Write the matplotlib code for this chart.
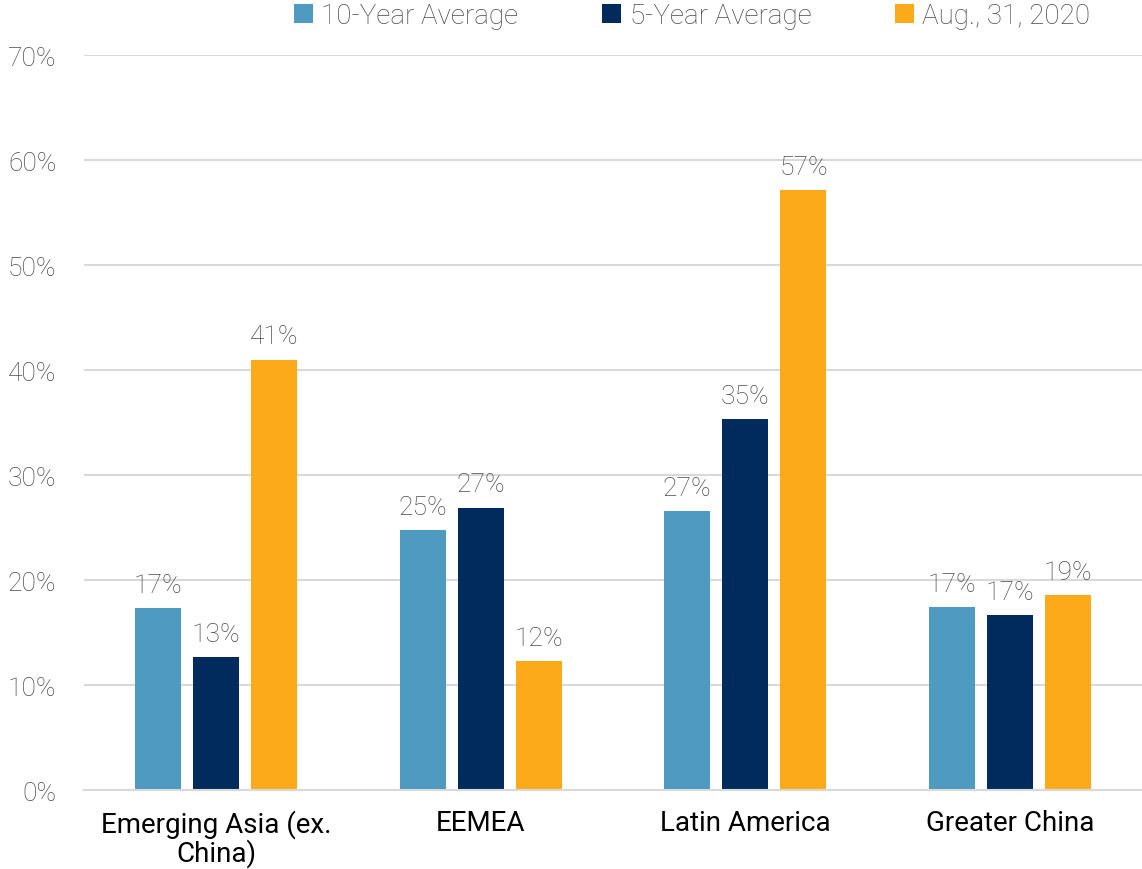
import matplotlib
matplotlib.use("Agg")
import matplotlib.pyplot as plt
import numpy as np

regions = ["Emerging Asia (ex.\nChina)", "EEMEA", "Latin America", "Greater China"]
series_names = ["10-Year Average", "5-Year Average", "Aug., 31, 2020"]
ten_year = [17.3, 24.8, 26.6, 17.4]
five_year = [12.7, 26.9, 35.3, 16.7]
aug_2020 = [41.0, 12.3, 57.1, 18.6]
yticks = [0, 10, 20, 30, 40, 50, 60, 70]

COLORS = ["#4F9AC1", "#002B5C", "#FDAA1A"]
GREY = "#4A4A4A"
plt.rcParams["font.family"] = ["Roboto", "DejaVu Sans"]

fig = plt.figure(figsize=(11.42, 8.7), dpi=100)
ax = fig.add_axes([0.0736, 0.0908, 0.9264, 0.8448])

x = np.arange(len(regions))
step = 0.22
width = 0.174
for i, (vals, name, color) in enumerate(zip([ten_year, five_year, aug_2020], series_names, COLORS)):
    pos = x + (i - 1) * step
    bars = ax.bar(pos, vals, width=width, color=color, label=name, zorder=2)
    for b, v in zip(bars, vals):
        ax.annotate(f"{v:.0f}%", (b.get_x() + b.get_width() / 2, v),
                    xytext=(0, 8), textcoords="offset points",
                    ha="center", va="bottom", fontsize=19, color=GREY,
                    fontweight="light")

ax.set_xlim(-0.5, len(regions) - 0.5)
ax.set_ylim(0, 70)
ax.set_yticks(yticks)
ax.set_yticklabels([f"{t}%" for t in yticks], fontsize=19, color=GREY,
                   fontweight="light")
ax.set_xticks(x)
ax.set_xticklabels(regions, fontsize=20, color="black", linespacing=1.0)
ax.tick_params(axis="y", length=0, pad=20)
ax.tick_params(axis="x", length=0, pad=14)
ax.grid(axis="y", color="#D9D9D9", linewidth=1.5, zorder=0)
for s in ["top", "right", "left"]:
    ax.spines[s].set_visible(False)
ax.spines["bottom"].set_color("#D9D9D9")
ax.spines["bottom"].set_linewidth(1.5)

leg = fig.legend(loc="upper center", bbox_to_anchor=(692 / 1142, 1.025), ncol=3,
                 frameon=False, fontsize=20, handlelength=0.7, handleheight=0.7,
                 handletextpad=0.3, columnspacing=3.0, labelcolor=GREY)
for t in leg.get_texts():
    t.set_fontweight("light")

fig.savefig("out.png", dpi=100)
